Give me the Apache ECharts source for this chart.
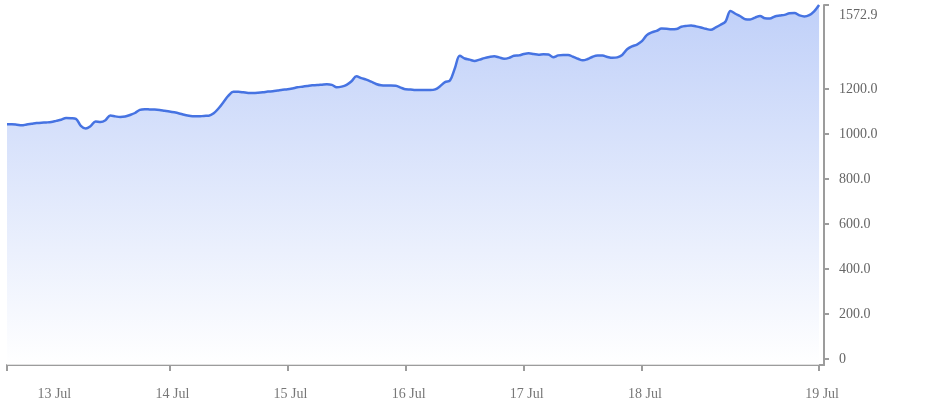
<!DOCTYPE html>
<html>
<head>
<meta charset="utf-8">
<script src="https://cdn.jsdelivr.net/npm/echarts@6/dist/echarts.min.js"></script>
<style>html,body{margin:0;padding:0;background:#fff;}#c{width:941px;height:408px;}</style>
</head>
<body>
<div id="c"></div>
<script>
// hourly series starting 12 Jul 15:00
const startDay = 12;
const startHour = 15;
const prices = [
1043,1043,1041,1038,1042,1045,1048,1050,1051,1053,
1058,1063,1071,1070,1067,1036,1024,1035,1055,1053,
1061,1082,1078,1075,1077,1084,1093,1107,1110,1109,
1108,1106,1103,1100,1096,1091,1085,1081,1078,1078,
1080,1081,1092,1114,1142,1170,1187,1187,1185,1182,
1182,1183,1185,1188,1190,1193,1196,1198,1202,1207,
1210,1213,1216,1217,1219,1221,1218,1207,1210,1218,
1234,1256,1248,1241,1232,1222,1216,1215,1215,1214,
1206,1198,1197,1195,1195,1195,1195,1198,1212,1230,
1237,1292,1347,1335,1330,1324,1330,1337,1342,1345,
1340,1334,1338,1347,1349,1355,1358,1355,1352,1354,
1353,1341,1349,1351,1351,1343,1334,1327,1333,1343,
1348,1348,1342,1338,1340,1351,1376,1389,1397,1412,
1439,1451,1458,1468,1467,1465,1466,1476,1480,1482,
1478,1473,1467,1463,1473,1485,1500,1546,1534,1523,
1510,1509,1517,1524,1514,1513,1522,1526,1529,1536,
1537,1527,1522,1528,1545,1572.9
];
const yTickValues = [0, 200, 400, 600, 800, 1000, 1200, 1572.9];
const yMaxValue = 1572.9;

const categories = [];
for (let i = 0; i < prices.length; i++) {
  const h = startHour + i;
  const d = startDay + Math.floor(h / 24);
  const hh = h % 24;
  categories.push(d + ' Jul ' + String(hh).padStart(2, '0') + ':00');
}
categories.push(''); // trailing pad so axis extends past last point
const seriesData = prices.slice();
seriesData.push(null);

const lastIdx = prices.length - 1;
const dayStarts = [];
categories.forEach((c, i) => { if (c.endsWith(' 00:00') && i < lastIdx - 24) dayStarts.push(i); });
const tickIdx = [0].concat(dayStarts.filter(i => i > 24)).concat([lastIdx]);
const labelIdx = dayStarts.concat([lastIdx]);

const chart = echarts.init(document.getElementById('c'), null, {renderer: 'canvas'});
const font = 'Liberation Serif';
const axisGray = '#9c9c9c';
chart.setOption({
  animation: false,
  backgroundColor: '#fff',
  grid: {left: 7, right: 117, top: 5, bottom: 43, containLabel: false},
  xAxis: {
    type: 'category',
    data: categories,
    boundaryGap: false,
    axisLine: {show: true, onZero: false, lineStyle: {color: axisGray, width: 2}},
    axisTick: {show: true, length: 6, customValues: tickIdx, lineStyle: {color: axisGray, width: 2}},
    axisLabel: {
      customValues: labelIdx,
      margin: 22,
      color: '#777',
      fontFamily: font,
      fontSize: 14,
      padding: [0, 0, 0, 6],
      formatter: v => v.split(' ').slice(0, 2).join(' ')
    },
    splitLine: {show: false}
  },
  yAxis: {
    type: 'value',
    position: 'right',
    min: -27,
    max: yMaxValue,
    axisLine: {show: true, lineStyle: {color: axisGray, width: 2}},
    axisTick: {show: true, length: 5, customValues: yTickValues, lineStyle: {color: axisGray, width: 2}},
    axisLabel: {
      customValues: yTickValues,
      margin: 15,
      color: '#666',
      fontFamily: font,
      fontSize: 14,
      formatter: v => v === 0 ? '0' : (v === yMaxValue ? '{m|' + v.toFixed(1) + '}' : v.toFixed(1)),
      rich: {m: {fontFamily: font, fontSize: 14, color: '#666', padding: [20, 0, 0, 0]}}
    },
    splitLine: {show: false}
  },
  series: [{
    type: 'line',
    data: seriesData,
    smooth: 0.35,
    showSymbol: false,
    connectNulls: false,
    lineStyle: {color: '#4673e2', width: 2.5},
    areaStyle: {
      origin: 'start',
      color: new echarts.graphic.LinearGradient(0, 0, 0, 1, [
        {offset: 0, color: '#a5bcf6'},
        {offset: 1, color: '#ffffff'}
      ])
    }
  }]
});
</script>
</body>
</html>
